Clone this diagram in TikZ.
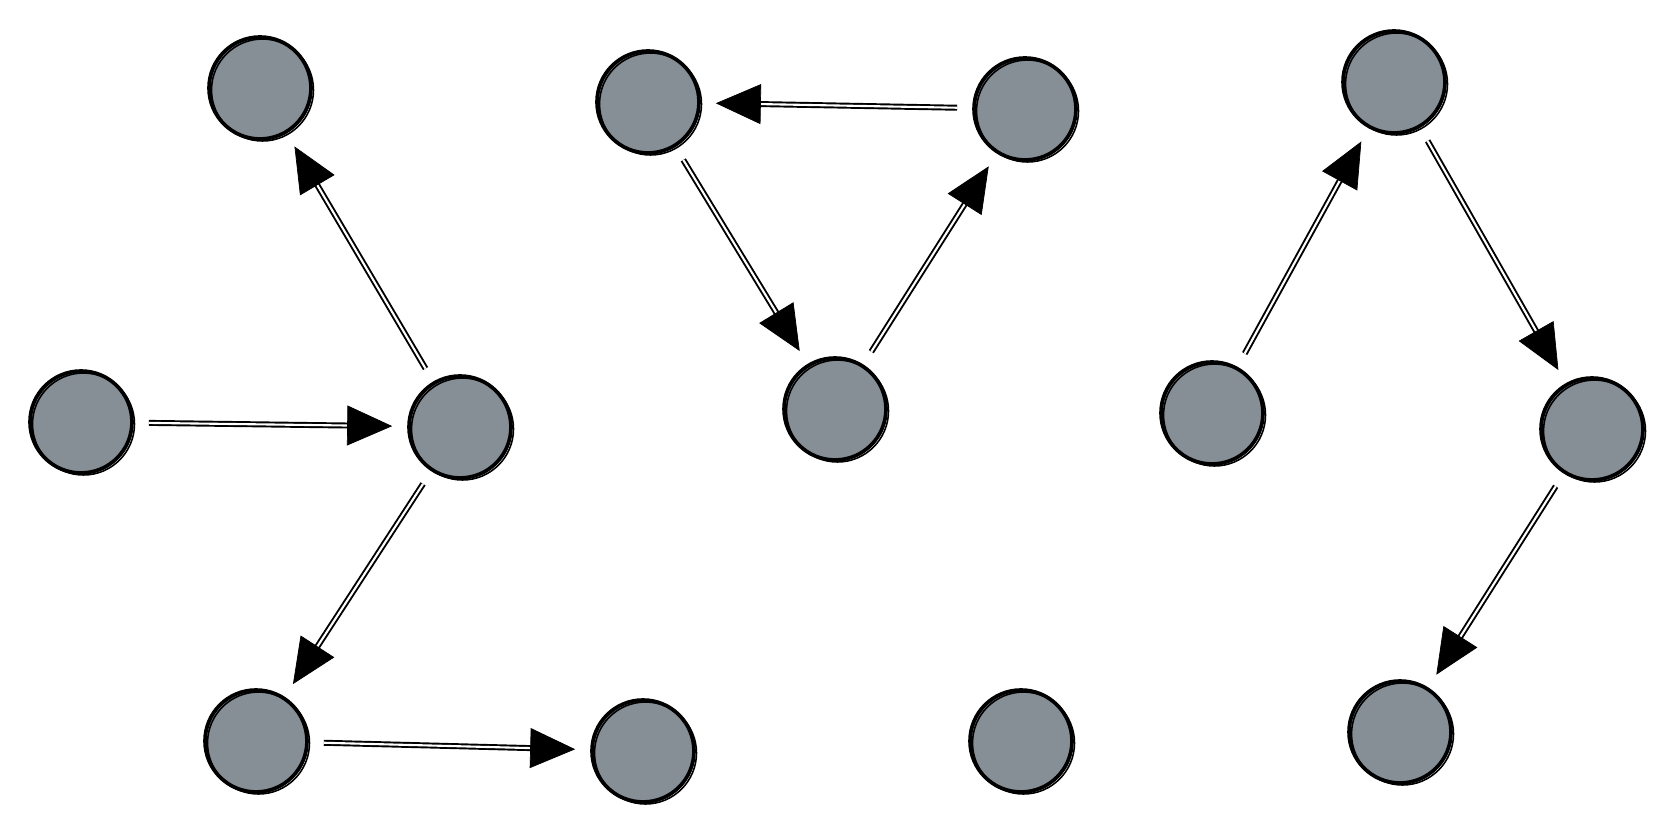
\documentclass[tikz,border=0pt]{standalone}
\usepackage{tikz}
\usetikzlibrary{arrows.meta,decorations.markings}
\definecolor{dotgray}{RGB}{134,142,150}
\newcommand{\sketchlink}[2]{\draw[link] (#1)--(#2); \path[linkhead] (#1)--(#2);}
\tikzset{
  vtx/.style={circle,draw=black,fill=dotgray,line width=2.1pt,minimum size=2.04cm,inner sep=0pt},
  ring/.style={line width=0.9pt},
  link/.style={line width=1.1pt,double=white,double distance=1.2pt,shorten <=0.3cm,shorten >=1.0cm},
  linkhead/.style={decorate,decoration={markings,mark=at position -0.3cm with {\arrow{Triangle[length=0.9cm,width=0.8cm]}}}}
}
\begin{document}
\begin{tikzpicture}[x=0.02cm,y=-0.02cm]
    \useasboundingbox (0,0) rectangle (1675,834);
    % left tree
    \node[vtx] (A) at (260,88) {}; \node[vtx] (B) at (81,422) {}; \node[vtx] (C) at (460,427) {};
    \node[vtx] (D) at (256,741) {}; \node[vtx] (E) at (643,751) {};
    % middle cycle
    \node[vtx] (F) at (648,102) {}; \node[vtx] (G) at (1025,109) {}; \node[vtx] (H) at (835,409) {};
    \node[vtx] (I) at (1021,741) {};
    % right chain
    \node[vtx] (J) at (1394,82) {}; \node[vtx] (K) at (1212,413) {}; \node[vtx] (L) at (1592,429) {};
    \node[vtx] (M) at (1400,732) {};
    \foreach \v in {A,B,C,D,E,F,G,H,I,J,K,L,M} \draw[ring] ([shift={(0.05cm,-0.04cm)}]\v.center) circle [radius=1.02cm];
    \sketchlink{B}{C} \sketchlink{C}{A} \sketchlink{C}{D} \sketchlink{D}{E}
    \sketchlink{G}{F} \sketchlink{F}{H} \sketchlink{H}{G}
    \sketchlink{K}{J} \sketchlink{J}{L} \sketchlink{L}{M}
\end{tikzpicture}
\end{document}
